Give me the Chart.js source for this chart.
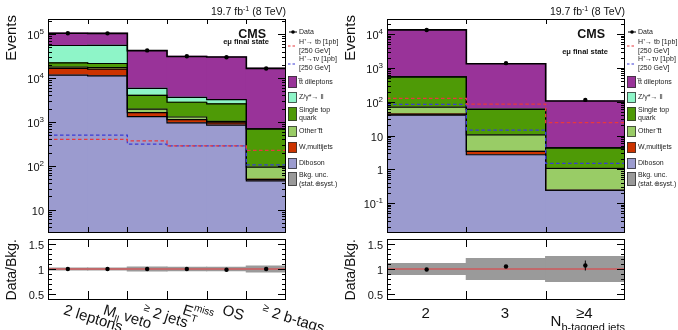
<!DOCTYPE html>
<html lang="en">
<head>
<meta charset="UTF-8" />
<title>CMS H+ e-mu selection</title>
<script src="https://cdn.jsdelivr.net/npm/chart.js@4.4.1/dist/chart.umd.min.js"></script>
<style>
  body { margin: 0; background: #fff; }
  #wrap { position: relative; width: 678px; height: 330px; overflow: hidden; }
  canvas { position: absolute; }
</style>
</head>
<body>
<div id="wrap">
  <canvas id="mainL" width="339" height="236" style="left:0;top:0"></canvas>
  <canvas id="ratioL" width="339" height="95" style="left:0;top:235px"></canvas>
  <canvas id="mainR" width="339" height="236" style="left:339px;top:0"></canvas>
  <canvas id="ratioR" width="339" height="95" style="left:339px;top:235px"></canvas>
</div>
<script>
  // ---- left: selection steps ----
  const cutLabels = ['2 leptons', 'M_ll veto', '>= 2 jets', 'ETmiss', 'OS', '>= 2 b-tags'];
  const cutDiboson   = [11600, 11200, 1320, 950, 840, 45];
  const cutWjets     = [5000, 4600, 310, 170, 110, 4];
  const cutOtherTT   = [1200, 1400, 320, 170, 80, 44];
  const cutSingleTop = [4200, 4200, 2050, 1510, 1540, 597];
  const cutDY        = [33000, 34100, 1800, 800, 630, 5];
  const cutTTdil     = [50000, 48500, 36200, 27400, 26800, 15900];
  const cutData      = [105000, 104000, 42500, 31200, 29800, 16500];
  const cutHtb       = [400, 400, 370, 285, 285, 225];
  const cutHtaunu    = [500, 500, 310, 285, 285, 105];
  const cutRatio     = [1.0, 1.0, 1.0, 1.0, 0.985, 1.0];
  const cutRatioErr  = [0.004, 0.004, 0.006, 0.007, 0.007, 0.01];
  const cutUnc       = [0.02, 0.02, 0.04, 0.035, 0.035, 0.06];

  // ---- right: b-tag multiplicity ----
  const nbLabels    = ['2', '3', '≥4'];
  const nbDiboson   = [40, 2.7, 0.24];
  const nbWjets     = [3, 0.7, 0];
  const nbOtherTT   = [26, 7, 0.83];
  const nbSingleTop = [474, 48.6, 3.23];
  const nbDY        = [0, 0, 0];
  const nbTTdil     = [12800, 1270, 100.7];
  const nbData      = [13200, 1380, 113];
  const nbHtb       = [125, 85, 24];
  const nbHtaunu    = [83, 14.5, 1.5];
  const nbRatio     = [0.99, 1.05, 1.07];
  const nbRatioErr  = [0.01, 0.03, 0.1];
  const nbUnc       = [0.11, 0.21, 0.25];

  const FONT = '"Liberation Sans", Arial, Helvetica, sans-serif';
  const procColors = ['#9b9bcf', '#cc3300', '#99cc66', '#4e9a06', '#8ef5c8', '#993399'];
  const RED = '#e8383d', BLUE = '#3b3bd6';

  function cumulate(list) {
    const out = [];
    let run = list[0].map(() => 0);
    for (const arr of list) {
      run = run.map((v, i) => v + arr[i]);
      out.push(run.slice());
    }
    return out;
  }
  const centers = vals => vals.map((v, i) => ({ x: i + 0.5, y: v }));
  const edges = vals => vals.map((v, i) => ({ x: i, y: v })).concat([{ x: vals.length, y: vals[vals.length - 1] }]);

  // draw text made of pieces: [text, size, dy, stackOnPrevious, bold]
  function rich(ctx, parts, x, y, align) {
    let cur = 0, prevStart = 0;
    const xs = [];
    parts.forEach(p => {
      ctx.font = (p[4] ? 'bold ' : '') + p[1] + 'px ' + FONT;
      const w = ctx.measureText(p[0]).width;
      const start = p[3] ? prevStart : cur;
      xs.push(start);
      prevStart = start;
      cur = Math.max(cur, start + w);
    });
    const x0 = align === 'right' ? x - cur : align === 'center' ? x - cur / 2 : x;
    ctx.textAlign = 'left';
    ctx.textBaseline = 'alphabetic';
    parts.forEach((p, i) => {
      ctx.font = (p[4] ? 'bold ' : '') + p[1] + 'px ' + FONT;
      ctx.fillText(p[0], x0 + xs[i], y + (p[2] || 0));
    });
  }

  function line(ctx, x1, y1, x2, y2) {
    ctx.beginPath(); ctx.moveTo(x1, y1); ctx.lineTo(x2, y2); ctx.stroke();
  }

  function drawLegend(ctx) {
    ctx.save();
    ctx.fillStyle = '#222';
    const tx = 299;
    const txt = (s, y) => { ctx.font = '7px ' + FONT; ctx.textBaseline = 'middle'; ctx.textAlign = 'left'; ctx.fillText(s, tx, y); };
    // data
    ctx.strokeStyle = '#000'; ctx.lineWidth = 1;
    line(ctx, 289, 32, 297, 32);
    ctx.beginPath(); ctx.arc(293, 32, 1.8, 0, Math.PI * 2); ctx.fillStyle = '#000'; ctx.fill();
    ctx.fillStyle = '#222';
    txt('Data', 32);
    // signals
    ctx.setLineDash([2.5, 2]); ctx.lineWidth = 1.2;
    ctx.strokeStyle = RED; line(ctx, 288, 46, 297, 46);
    ctx.strokeStyle = BLUE; line(ctx, 288, 64, 297, 64);
    ctx.setLineDash([]);
    txt('H\u207A\u2192 tb [1pb]', 42); txt('[250 GeV]', 51);
    txt('H\u207A\u2192\u03C4\u03BD [1pb]', 59); txt('[250 GeV]', 68);
    const boxes = [
      [procColors[5], 76, 12, ['t\u0305t dileptons'], [82]],
      [procColors[4], 92, 11, ['Z/\u03B3*\u2192 ll'], [97.5]],
      [procColors[3], 107, 14, ['Single top', 'quark'], [110, 118.5]],
      [procColors[2], 126, 11, ['Other t\u0305t'], [131.5]],
      [procColors[1], 142, 11, ['W,multijets'], [147.5]],
      [procColors[0], 158, 11, ['Diboson'], [163.5]],
      ['#999999', 172, 14, ['Bkg. unc.', '(stat.\u2295syst.)'], [175.5, 184]]
    ];
    boxes.forEach(b => {
      ctx.fillStyle = b[0];
      ctx.fillRect(288, b[1], 9, b[2]);
      ctx.strokeStyle = '#333'; ctx.lineWidth = 0.8;
      ctx.strokeRect(288.5, b[1] + 0.5, 8, b[2] - 1);
      ctx.fillStyle = '#222';
      b[3].forEach((s, i) => txt(s, b[4][i]));
    });
    ctx.restore();
  }

  function mainDecor(stateY) {
    return {
      id: 'mainDecor',
      afterDatasetsDraw(chart) {
        const ctx = chart.ctx, a = chart.chartArea, xs = chart.scales.x, ys = chart.scales.y;
        ctx.save();
        ctx.strokeStyle = '#000'; ctx.lineWidth = 1;
        // bin-edge ticks
        for (let i = 1; i < xs.max; i++) {
          const px = Math.round(xs.getPixelForValue(i)) + 0.5;
          line(ctx, px, a.top, px, a.top + 5);
          line(ctx, px, a.bottom, px, a.bottom - 5);
        }
        // log ticks and labels
        const lo = Math.floor(Math.log10(ys.min)), hi = Math.ceil(Math.log10(ys.max));
        ctx.fillStyle = '#111';
        for (let d = lo; d <= hi; d++) {
          for (let m = 1; m <= 9; m++) {
            const v = m * Math.pow(10, d);
            if (v < ys.min || v > ys.max) continue;
            const py = Math.round(ys.getPixelForValue(v)) + 0.5;
            const len = m === 1 ? 8 : 4;
            line(ctx, a.left, py, a.left + len, py);
            line(ctx, a.right, py, a.right - len, py);
            if (m === 1) {
              const parts = d === 0 ? [['1', 11]] : d === 1 ? [['10', 11]] : [['10', 11], [String(d), 8, -5]];
              rich(ctx, parts, a.left - 4, py + 4, 'right');
            }
          }
        }
        ctx.strokeRect(a.left + 0.5, a.top + 0.5, a.right - a.left - 1, a.bottom - a.top);
        // axis title
        ctx.save();
        ctx.translate(16, a.top - 4);
        ctx.rotate(-Math.PI / 2);
        ctx.font = '15px ' + FONT; ctx.textAlign = 'right'; ctx.textBaseline = 'alphabetic';
        ctx.fillText('Events', 0, 0);
        ctx.restore();
        // lumi + CMS
        rich(ctx, [['19.7 fb', 10.5], ['-1', 7, -4], [' (8 TeV)', 10.5]], a.right, 15, 'right');
        rich(ctx, [['CMS', 12.5, 0, false, true]], 266, 38, 'right');
        rich(ctx, [['e\u03BC final state', 7.5, 0, false, true]], 269, stateY, 'right');
        drawLegend(ctx);
        ctx.restore();
      }
    };
  }

  function ratioDecor(ratio, err, drawLabels) {
    return {
      id: 'ratioDecor',
      afterDatasetsDraw(chart) {
        const ctx = chart.ctx, a = chart.chartArea, xs = chart.scales.x, ys = chart.scales.y;
        ctx.save();
        ctx.strokeStyle = '#000'; ctx.lineWidth = 1;
        // error bars
        ratio.forEach((r, i) => {
          const px = xs.getPixelForValue(i + 0.5);
          line(ctx, px, ys.getPixelForValue(r - err[i]), px, ys.getPixelForValue(r + err[i]));
        });
        for (let i = 1; i < xs.max; i++) {
          const px = Math.round(xs.getPixelForValue(i)) + 0.5;
          line(ctx, px, a.top, px, a.top + 8);
          line(ctx, px, a.bottom, px, a.bottom - 8);
        }
        ctx.fillStyle = '#111';
        for (let k = 5; k <= 15; k++) {
          const v = k / 10;
          const py = Math.round(ys.getPixelForValue(v)) + 0.5;
          const major = k % 5 === 0;
          const len = major ? 8 : 4;
          line(ctx, a.left, py, a.left + len, py);
          line(ctx, a.right, py, a.right - len, py);
          if (major) rich(ctx, [[k === 10 ? '1' : String(v), 11]], a.left - 4, py + 4, 'right');
        }
        ctx.strokeRect(a.left + 0.5, a.top + 0.5, a.right - a.left - 1, a.bottom - a.top);
        ctx.save();
        ctx.translate(16, a.top);
        ctx.rotate(-Math.PI / 2);
        ctx.font = '14px ' + FONT; ctx.textAlign = 'right'; ctx.textBaseline = 'alphabetic';
        ctx.fillText('Data/Bkg.', 0, 0);
        ctx.restore();
        drawLabels(ctx, xs, a);
        ctx.restore();
      }
    };
  }

  function cutLabelsDraw(ctx, xs, a) {
    const rich15 = {
      '2 leptons': [['2 leptons', 15]],
      'M_ll veto': [['M', 15], ['ll', 10, 4], [' veto', 15]],
      '>= 2 jets': [['\u2265', 11, -4], [' 2 jets', 15]],
      'ETmiss': [['E', 15], ['T', 10, 4], ['miss', 10, -7, true]],
      'OS': [['OS', 15]],
      '>= 2 b-tags': [['\u2265', 11, -4], [' 2 b-tags', 15]]
    };
    ctx.fillStyle = '#111';
    cutLabels.forEach((lab, i) => {
      const cx = xs.getPixelForValue(i + 0.5);
      ctx.save();
      ctx.translate(cx - 5, a.bottom + 15);
      ctx.rotate(0.3);
      rich(ctx, rich15[lab], 0, 0, 'left');
      ctx.restore();
    });
  }

  function nbLabelsDraw(ctx, xs, a) {
    ctx.fillStyle = '#111';
    nbLabels.forEach((lab, i) => {
      rich(ctx, [[lab, 15]], xs.getPixelForValue(i + 0.5) - 1, a.bottom + 19, 'center');
    });
    rich(ctx, [['N', 15], ['b-tagged jets', 11, 5]], a.right, a.bottom + 27, 'right');
  }

  function mainChart(id, comps, data, htb, htaunu, yMin, yMax, stateY) {
    const cum = cumulate(comps);
    const datasets = [];
    cum.forEach((vals, k) => {
      datasets.push({
        type: 'bar', data: centers(vals), backgroundColor: procColors[k],
        borderWidth: 0, barPercentage: 1, categoryPercentage: 1, grouped: false,
        inflateAmount: 0.6, order: 100 + k
      });
      datasets.push({
        type: 'line', data: edges(vals), stepped: true, borderColor: '#000',
        borderWidth: k === cum.length - 1 ? 1.6 : 1.2, pointRadius: 0, fill: false, order: 50
      });
    });
    datasets.push({ type: 'line', data: edges(htaunu), stepped: true, borderColor: BLUE, borderDash: [3.5, 2.5], borderWidth: 1.3, pointRadius: 0, fill: false, order: 21 });
    datasets.push({ type: 'line', data: edges(htb), stepped: true, borderColor: RED, borderDash: [3.5, 2.5], borderWidth: 1.3, pointRadius: 0, fill: false, order: 20 });
    datasets.push({ type: 'line', data: centers(data), showLine: false, pointRadius: 2.2, pointBackgroundColor: '#000', pointBorderWidth: 0, order: 1 });
    return new Chart(document.getElementById(id), {
      data: { datasets },
      options: {
        responsive: false, animation: false, devicePixelRatio: 1,
        layout: { padding: { left: 48, right: 53, top: 19, bottom: 1 } },
        plugins: { legend: { display: false }, tooltip: { enabled: false } },
        scales: {
          x: { type: 'linear', min: 0, max: comps[0].length, offset: false, display: false },
          y: { type: 'logarithmic', min: yMin, max: yMax, display: false }
        }
      },
      plugins: [mainDecor(stateY)]
    });
  }

  function ratioChart(id, ratio, err, unc, drawLabels) {
    const n = ratio.length;
    return new Chart(document.getElementById(id), {
      data: {
        datasets: [
          { type: 'bar', data: unc.map((u, i) => ({ x: i + 0.5, y: [1 - u, 1 + u] })), backgroundColor: '#9a9a9a',
            borderWidth: 0, barPercentage: 1, categoryPercentage: 1, inflateAmount: 0.6, order: 10 },
          { type: 'line', data: [{ x: 0, y: 1 }, { x: n, y: 1 }], borderColor: RED, borderWidth: 1, pointRadius: 0, order: 5 },
          { type: 'line', data: centers(ratio), showLine: false, pointRadius: 2.2, pointBackgroundColor: '#000', pointBorderWidth: 0, order: 1 }
        ]
      },
      options: {
        responsive: false, animation: false, devicePixelRatio: 1,
        layout: { padding: { left: 48, right: 53, top: 0, bottom: 31 } },
        plugins: { legend: { display: false }, tooltip: { enabled: false } },
        scales: {
          x: { type: 'linear', min: 0, max: n, offset: false, display: false },
          y: { type: 'linear', min: 0.4, max: 1.6, display: false }
        }
      },
      plugins: [ratioDecor(ratio, err, drawLabels)]
    });
  }

  mainChart('mainL', [cutDiboson, cutWjets, cutOtherTT, cutSingleTop, cutDY, cutTTdil], cutData, cutHtb, cutHtaunu, 3.09, 2.21e5, 44);
  ratioChart('ratioL', cutRatio, cutRatioErr, cutUnc, cutLabelsDraw);
  mainChart('mainR', [nbDiboson, nbWjets, nbOtherTT, nbSingleTop, nbDY, nbTTdil], nbData, nbHtb, nbHtaunu, 0.014, 2.79e4, 54);
  ratioChart('ratioR', nbRatio, nbRatioErr, nbUnc, nbLabelsDraw);
</script>
</body>
</html>
